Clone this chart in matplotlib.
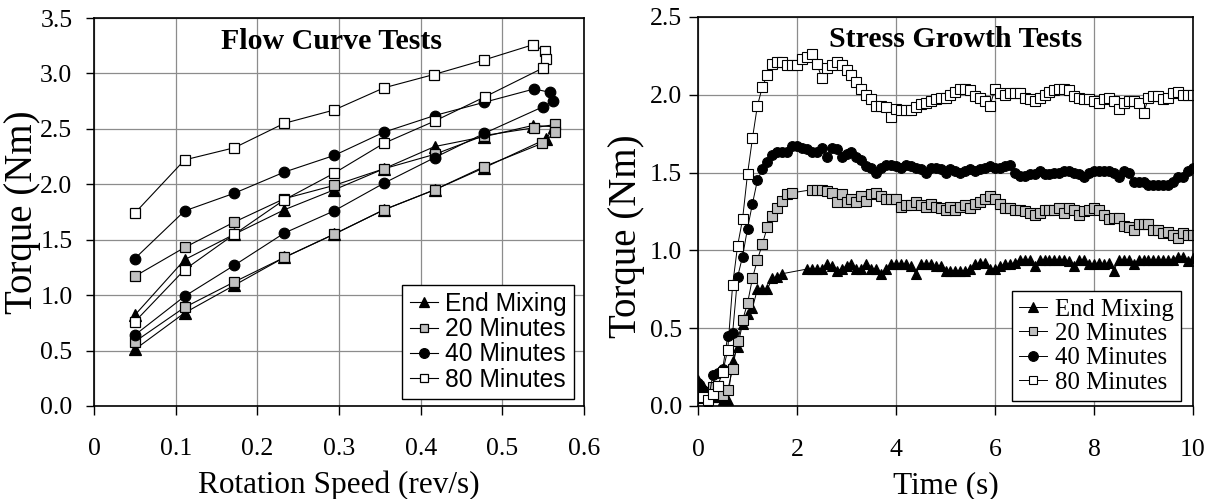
import numpy as np
import matplotlib
matplotlib.use("Agg")
import matplotlib.pyplot as plt

plt.rcParams['font.family'] = ['Liberation Serif', 'DejaVu Serif']

# ---------------- data: flow curve tests (left) ----------------
series_names = ["End Mixing", "20 Minutes", "40 Minutes", "80 Minutes"]

flow_x_end = [0.050, 0.111, 0.172, 0.233, 0.294, 0.355, 0.417, 0.478, 0.537, 0.563,
              0.554, 0.478, 0.417, 0.355, 0.294, 0.233, 0.172, 0.111, 0.050]
flow_y_end = [0.82, 1.32, 1.55, 1.77, 1.95, 2.14, 2.34, 2.43, 2.53, 2.52,
              2.41, 2.15, 1.95, 1.77, 1.55, 1.34, 1.09, 0.84, 0.51]

flow_x_20 = [0.050, 0.111, 0.172, 0.233, 0.294, 0.355, 0.417, 0.478, 0.539, 0.565,
             0.565, 0.549, 0.478, 0.417, 0.355, 0.294, 0.233, 0.172, 0.111, 0.050]
flow_y_20 = [1.17, 1.43, 1.66, 1.87, 1.99, 2.14, 2.27, 2.44, 2.51, 2.54,
             2.47, 2.37, 2.16, 1.95, 1.77, 1.55, 1.34, 1.12, 0.89, 0.58]

flow_x_40 = [0.050, 0.111, 0.172, 0.233, 0.294, 0.355, 0.417, 0.478, 0.539, 0.558,
             0.562, 0.550, 0.478, 0.417, 0.355, 0.294, 0.233, 0.172, 0.111, 0.050]
flow_y_40 = [1.33, 1.76, 1.92, 2.11, 2.26, 2.47, 2.62, 2.74, 2.86, 2.83,
             2.75, 2.70, 2.46, 2.24, 2.01, 1.76, 1.56, 1.27, 0.99, 0.64]

flow_x_80 = [0.050, 0.111, 0.172, 0.233, 0.294, 0.355, 0.416, 0.477, 0.538, 0.552,
             0.554, 0.550, 0.479, 0.417, 0.355, 0.294, 0.233, 0.172, 0.111, 0.050]
flow_y_80 = [1.74, 2.22, 2.33, 2.55, 2.67, 2.87, 2.99, 3.12, 3.26, 3.20,
             3.13, 3.05, 2.79, 2.57, 2.37, 2.10, 1.86, 1.55, 1.23, 0.76]

flow_xticks = [0, 0.1, 0.2, 0.3, 0.4, 0.5, 0.6]
flow_xtick_labels = ["0", "0.1", "0.2", "0.3", "0.4", "0.5", "0.6"]
flow_yticks = [0.0, 0.5, 1.0, 1.5, 2.0, 2.5, 3.0, 3.5]
flow_ytick_labels = ["0.0", "0.5", "1.0", "1.5", "2.0", "2.5", "3.0", "3.5"]

# ---------------- data: stress growth tests (right) ----------------
# sampled every 0.1 s from 0 to 10 s; None = no sample recorded
sample_step = 0.1
stress_end = [
    0.17, 0.13, 0.09, 0.06, 0.06, 0.04, 0.04, 0.29, 0.38, 0.53,
    0.59, 0.63, 0.75, 0.75, 0.75, 0.82, 0.83, 0.85, None, None,
    None, None, 0.88, 0.88, 0.88, 0.88, 0.91, 0.90, 0.87, 0.88,
    0.90, 0.91, 0.88, 0.88, 0.91, 0.88, 0.88, 0.85, 0.88, 0.91,
    0.91, 0.91, 0.91, 0.90, 0.85, 0.91, 0.91, 0.91, 0.90, 0.90,
    0.87, 0.87, 0.87, 0.87, 0.87, 0.88, 0.91, 0.92, 0.92, 0.88,
    0.88, 0.90, 0.91, 0.91, 0.92, 0.94, 0.94, 0.94, 0.90, 0.94,
    0.94, 0.94, 0.94, 0.94, 0.94, 0.93, 0.90, 0.94, 0.94, 0.91,
    0.91, 0.92, 0.91, 0.92, 0.87, 0.94, 0.94, 0.94, 0.91, 0.94,
    0.94, 0.94, 0.94, 0.94, 0.94, 0.94, 0.94, 0.96, 0.96, 0.93,
    0.95]
stress_20 = [
    0.06, 0.09, 0.05, 0.12, 0.13, 0.07, 0.10, 0.24, 0.42, 0.55,
    0.66, 0.82, 0.94, 1.04, 1.15, 1.22, 1.27, 1.32, 1.36, 1.37,
    None, None, None, 1.39, 1.39, 1.39, 1.38, 1.37, 1.31, 1.36,
    1.31, 1.33, 1.31, 1.35, 1.32, 1.36, 1.37, 1.35, 1.33, 1.33,
    1.33, 1.28, 1.29, 1.29, 1.31, 1.29, 1.28, 1.30, 1.28, 1.27,
    1.26, 1.28, 1.26, 1.28, 1.29, 1.27, 1.30, 1.31, 1.33, 1.35,
    1.33, 1.30, 1.27, 1.27, 1.26, 1.26, 1.25, 1.24, 1.23, 1.24,
    1.26, 1.26, 1.26, 1.27, 1.24, 1.27, 1.26, 1.23, 1.25, 1.26,
    1.27, 1.26, 1.23, 1.20, 1.21, 1.21, 1.16, 1.15, 1.13, 1.17,
    1.17, 1.17, 1.13, 1.13, 1.11, 1.12, 1.10, 1.08, 1.11, 1.10,
    1.10]
stress_40 = [
    0.15, 0.10, 0.02, 0.20, 0.21, 0.24, 0.45, 0.47, 0.83, 0.96,
    1.14, 1.30, 1.45, 1.52, 1.57, 1.61, 1.63, 1.63, 1.63, 1.67,
    1.67, 1.66, 1.65, 1.63, 1.63, 1.66, 1.60, 1.66, 1.65, 1.60,
    1.62, 1.63, 1.60, 1.58, 1.54, 1.53, 1.50, 1.53, 1.55, 1.55,
    1.54, 1.53, 1.55, 1.54, 1.53, 1.52, 1.50, 1.53, 1.53, 1.52,
    1.50, 1.52, 1.51, 1.50, 1.51, 1.52, 1.51, 1.52, 1.53, 1.54,
    1.53, 1.53, 1.54, 1.55, 1.50, 1.48, 1.48, 1.49, 1.49, 1.51,
    1.49, 1.49, 1.50, 1.50, 1.51, 1.51, 1.50, 1.49, 1.47, 1.50,
    1.51, 1.51, 1.51, 1.51, 1.50, 1.47, 1.51, 1.50, 1.44, 1.44,
    1.44, 1.42, 1.42, 1.42, 1.42, 1.42, 1.44, 1.47, 1.47, 1.51,
    1.53]
stress_80 = [
    0.05, 0.06, 0.04, 0.08, 0.13, 0.22, 0.36, 0.78, 1.03, 1.20,
    1.49, 1.72, 1.93, 2.05, 2.13, 2.20, 2.21, 2.21, 2.19, 2.19,
    2.19, 2.23, 2.24, 2.26, 2.20, 2.11, 2.17, 2.19, 2.21, 2.19,
    2.16, 2.13, 2.08, 2.04, 2.00, 1.97, 1.93, 1.93, 1.92, 1.86,
    1.91, 1.90, 1.90, 1.90, 1.92, 1.94, 1.95, 1.96, 1.97, 1.98,
    1.98, 2.00, 2.02, 2.04, 2.04, 2.03, 1.99, 1.98, 1.96, 1.93,
    2.04, 2.01, 2.00, 2.01, 2.01, 2.01, 1.98, 1.97, 1.96, 1.98,
    2.00, 2.02, 2.03, 2.04, 2.04, 2.03, 1.99, 1.98, 1.97, 1.97,
    1.96, 1.95, 1.97, 1.98, 1.96, 1.91, 1.95, 1.96, 1.96, 1.95,
    1.88, 1.98, 1.99, 1.99, 1.97, 1.98, 2.01, 2.02, 2.00, 2.00,
    2.00]

stress_xticks = [0, 2, 4, 6, 8, 10]
stress_xtick_labels = ["0", "2", "4", "6", "8", "10"]
stress_yticks = [0.0, 0.5, 1.0, 1.5, 2.0, 2.5]
stress_ytick_labels = ["0.0", "0.5", "1.0", "1.5", "2.0", "2.5"]

# ---------------- styles ----------------
GRAY = "#c0c0c0"
styles = [
    dict(marker="^", mfc="black", mec="black"),
    dict(marker="s", mfc=GRAY, mec="black"),
    dict(marker="o", mfc="black", mec="black"),
    dict(marker="s", mfc="white", mec="black"),
]
left_ms = [8.0, 6.8, 7.6, 7.2]
right_ms = [7.6, 6.8, 7.0, 6.9]
legend_ms = [7.4, 6.2, 7.0, 6.4]

W, H = 1210, 499
fig = plt.figure(figsize=(W / 100, H / 100), dpi=100)
ax1 = fig.add_axes([94 / W, (H - 406) / H, 490 / W, 388 / H])
ax2 = fig.add_axes([698 / W, (H - 406) / H, 495 / W, 389 / H])

# left chart
flow_sets = [(flow_x_end, flow_y_end), (flow_x_20, flow_y_20),
             (flow_x_40, flow_y_40), (flow_x_80, flow_y_80)]
for (xs, ys), name, st, ms in zip(flow_sets, series_names, styles, left_ms):
    ax1.plot(xs, ys, color="black", lw=0.8, ms=ms, mew=0.9, label=name, **st)

# right chart
stress_sets = [stress_end, stress_20, stress_40, stress_80]
for vals, name, st, ms in zip(stress_sets, series_names, styles, right_ms):
    t = [round(i * sample_step, 1) for i, v in enumerate(vals) if v is not None]
    v = [v for v in vals if v is not None]
    ax2.plot(t, v, color="black", lw=0.7, ms=ms, mew=0.8, label=name, **st)

for ax in (ax1, ax2):
    ax.grid(True, color="#8c8c8c", lw=0.9)
    ax.set_axisbelow(True)
    for sp in ax.spines.values():
        sp.set_linewidth(1.2)
        sp.set_color("black")

ax1.set_xlim(0, 0.6)
ax1.set_ylim(0, 3.5)
ax1.set_xticks(flow_xticks, flow_xtick_labels)
ax1.set_yticks(flow_yticks, flow_ytick_labels)
ax1.tick_params(axis="x", direction="out", length=6.5, width=1, labelsize=18.5, pad=16.5)
ax1.tick_params(axis="y", direction="out", length=5.5, width=1, labelsize=18.5, pad=10)

ax2.set_xlim(0, 10)
ax2.set_ylim(0, 2.5)
ax2.set_xticks(stress_xticks, stress_xtick_labels)
ax2.set_yticks(stress_yticks, stress_ytick_labels)
ax2.tick_params(axis="x", direction="out", length=6.5, width=1, labelsize=18.5, pad=17)
ax2.tick_params(axis="y", direction="out", length=6.5, width=1, labelsize=18.5, pad=5)

ax1.set_xlabel("Rotation Speed (rev/s)", fontsize=22.5, va="top")
ax1.xaxis.set_label_coords(0.5, -0.167)
ax1.set_ylabel("Torque (Nm)", fontsize=28, va="center")
ax1.yaxis.set_label_coords(-0.145, 0.5)

ax2.set_xlabel("Time (s)", fontsize=22.5, va="top")
ax2.xaxis.set_label_coords(0.5, -0.167)
ax2.set_ylabel("Torque (Nm)", fontsize=28, va="center")
ax2.yaxis.set_label_coords(-0.145, 0.437)

ax1.text(0.484, 0.919, "Flow Curve Tests", transform=ax1.transAxes,
         ha="center", va="baseline", fontsize=21.5, fontweight="bold")
ax2.text(0.520, 0.924, "Stress Growth Tests", transform=ax2.transAxes,
         ha="center", va="baseline", fontsize=21.5, fontweight="bold")

leg1 = ax1.legend(loc="lower right", bbox_to_anchor=(0.980, 0.018), frameon=True,
                  fancybox=False, prop={"family": "Liberation Sans", "size": 17.7},
                  labelspacing=0.05, handlelength=1.15, handletextpad=0.3,
                  borderpad=0.3, borderaxespad=0.0, framealpha=1)
leg1.get_frame().set_edgecolor("black")
leg1.get_frame().set_linewidth(1.0)

leg2 = ax2.legend(loc="lower right", bbox_to_anchor=(0.976, 0.013), frameon=True,
                  fancybox=False, prop={"family": "Liberation Serif", "size": 17.8},
                  labelspacing=0.08, handlelength=1.15, handletextpad=0.3,
                  borderpad=0.3, borderaxespad=0.0, framealpha=1)
leg2.get_frame().set_edgecolor("black")
leg2.get_frame().set_linewidth(1.0)

for leg in (leg1, leg2):
    for h, ms in zip(leg.legend_handles, legend_ms):
        h.set_markersize(ms)

fig.savefig("out.png", dpi=100)
